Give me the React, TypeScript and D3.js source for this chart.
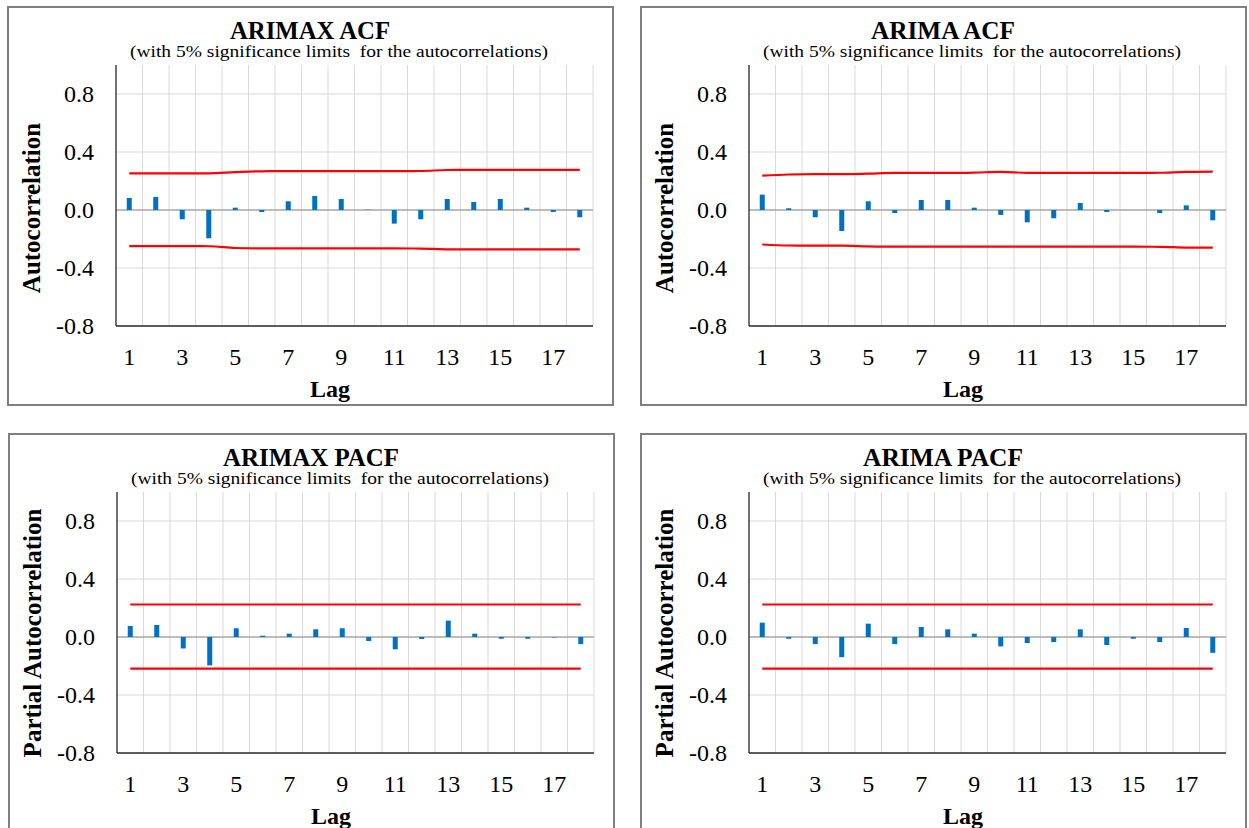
import React from 'react';
import * as d3 from 'd3';

// lags shown on every chart
const lags = [1, 2, 3, 4, 5, 6, 7, 8, 9, 10, 11, 12, 13, 14, 15, 16, 17, 18];
const yTicks = [-0.8, -0.4, 0.0, 0.4, 0.8];
const xTickLabels = [1, 3, 5, 7, 9, 11, 13, 15, 17];

// values
const arimaxAcf = [0.083, 0.09, -0.064, -0.195, 0.016, -0.014, 0.06, 0.097, 0.076, 0.002, -0.094, -0.064, 0.076, 0.055, 0.076, 0.016, -0.014, -0.05];
const arimaAcf = [0.106, 0.012, -0.05, -0.145, 0.06, -0.021, 0.069, 0.069, 0.016, -0.034, -0.085, -0.057, 0.048, -0.014, 0.0, -0.021, 0.032, -0.071];
const arimaxPacf = [0.076, 0.083, -0.079, -0.196, 0.06, 0.009, 0.023, 0.053, 0.06, -0.028, -0.085, -0.014, 0.113, 0.023, -0.012, -0.012, -0.003, -0.049];
const arimaPacf = [0.099, -0.012, -0.049, -0.139, 0.092, -0.049, 0.069, 0.053, 0.023, -0.065, -0.042, -0.035, 0.053, -0.055, -0.012, -0.035, 0.062, -0.109];

// 5% significance limits, upper and lower
const arimaxAcfUpper = [0.252, 0.252, 0.252, 0.253, 0.261, 0.267, 0.268, 0.268, 0.268, 0.268, 0.268, 0.269, 0.276, 0.277, 0.277, 0.277, 0.277, 0.277];
const arimaxAcfLower = [-0.249, -0.249, -0.249, -0.25, -0.262, -0.265, -0.265, -0.265, -0.265, -0.265, -0.265, -0.266, -0.271, -0.272, -0.272, -0.272, -0.272, -0.272];
const arimaAcfUpper = [0.237, 0.245, 0.247, 0.247, 0.251, 0.256, 0.256, 0.256, 0.258, 0.263, 0.256, 0.256, 0.256, 0.256, 0.256, 0.257, 0.263, 0.264];
const arimaAcfLower = [-0.238, -0.245, -0.246, -0.246, -0.251, -0.253, -0.253, -0.253, -0.253, -0.253, -0.253, -0.253, -0.253, -0.253, -0.253, -0.254, -0.259, -0.26];
const arimaxPacfUpper = [0.224, 0.224, 0.224, 0.224, 0.224, 0.224, 0.224, 0.224, 0.224, 0.224, 0.224, 0.224, 0.224, 0.224, 0.224, 0.224, 0.224, 0.224];
const arimaxPacfLower = [-0.218, -0.218, -0.218, -0.218, -0.218, -0.218, -0.218, -0.218, -0.218, -0.218, -0.218, -0.218, -0.218, -0.218, -0.218, -0.218, -0.218, -0.218];
const arimaPacfUpper = [0.224, 0.224, 0.224, 0.224, 0.224, 0.224, 0.224, 0.224, 0.224, 0.224, 0.224, 0.224, 0.224, 0.224, 0.224, 0.224, 0.224, 0.224];
const arimaPacfLower = [-0.218, -0.218, -0.218, -0.218, -0.218, -0.218, -0.218, -0.218, -0.218, -0.218, -0.218, -0.218, -0.218, -0.218, -0.218, -0.218, -0.218, -0.218];

const subtitle = '(with 5% significance limits  for the autocorrelations)';
const font = '"Liberation Serif", "Times New Roman", serif';

const boxW = 605;
const plot = { left: 108, right: 585, top: 58, bottom: 319 };

function Panel({ x0, y0, title, yTitle, values, upper, lower, boxHeight }) {
  const x = d3.scaleBand().domain(lags).range([plot.left, plot.right]).padding(0);
  const y = d3.scaleLinear().domain([-0.8, 1.0]).range([plot.bottom, plot.top]);
  const cx = d => x(d) + x.bandwidth() / 2;

  const limitLine = d3.line().x((d, i) => cx(lags[i])).y(d => y(d)).curve(d3.curveMonotoneX);

  const barW = 5;

  return (
    <g transform={`translate(${x0},${y0})`} fontFamily={font}>
      <rect x={0} y={0} width={boxW} height={boxHeight} fill="#fff" stroke="#7f7f7f" strokeWidth={2} />

      <text x={302} y={32} textAnchor="middle" fontSize={25} fontWeight="bold" textLength={title.length * 16} lengthAdjust="spacingAndGlyphs">{title}</text>
      <text x={331} y={50} textAnchor="middle" fontSize={17} textLength={418} lengthAdjust="spacingAndGlyphs" style={{ whiteSpace: 'pre' }}>{subtitle}</text>

      {/* vertical gridlines between categories */}
      {lags.map(l => (
        <line key={'v' + l} x1={x(l) + x.bandwidth()} x2={x(l) + x.bandwidth()} y1={plot.top} y2={plot.bottom} stroke="#d9d9d9" strokeWidth={1} />
      ))}
      {yTicks.filter(t => t !== 0 && t !== -0.8).map(t => (
        <line key={'h' + t} x1={plot.left} x2={plot.right} y1={y(t)} y2={y(t)} stroke="#d9d9d9" strokeWidth={1} />
      ))}
      <line x1={plot.left} x2={plot.right} y1={y(0)} y2={y(0)} stroke="#a6a6a6" strokeWidth={1.5} />

      {values.map((v, i) => (
        <rect key={'b' + i} x={cx(lags[i]) - barW / 2} y={y(Math.max(0, v))} width={barW} height={Math.abs(y(v) - y(0))} fill="#0070c0" />
      ))}

      <path d={limitLine(upper)} fill="none" stroke="#ff0000" strokeWidth={2.2} />
      <path d={limitLine(lower)} fill="none" stroke="#ff0000" strokeWidth={2.2} />

      <line x1={plot.left} x2={plot.left} y1={plot.top} y2={plot.bottom} stroke="#262626" strokeWidth={1.3} />
      <line x1={plot.left} x2={plot.right} y1={plot.bottom} y2={plot.bottom} stroke="#262626" strokeWidth={1.3} />

      {yTicks.map(t => (
        <text key={'yt' + t} x={86} y={y(t) + 8} textAnchor="end" fontSize={24}>{t.toFixed(1)}</text>
      ))}
      {xTickLabels.map(l => (
        <text key={'xt' + l} x={cx(l)} y={358} textAnchor="middle" fontSize={24}>{l}</text>
      ))}

      <text x={322} y={390} textAnchor="middle" fontSize={24} fontWeight="bold">Lag</text>
      <text transform={`translate(32,${y0 < 100 ? 201 : 199}) rotate(-90)`} textAnchor="middle" fontSize={25} fontWeight="bold">{yTitle}</text>
    </g>
  );
}

export default function App() {
  return (
    <svg width={1249} height={828} style={{ position: 'absolute', left: 0, top: 0, background: '#fff' }}>
      <rect width={1249} height={828} fill="#fff" />
      <Panel x0={8} y0={7} title="ARIMAX ACF" yTitle="Autocorrelation" values={arimaxAcf} upper={arimaxAcfUpper} lower={arimaxAcfLower} boxHeight={398} />
      <Panel x0={641} y0={7} title="ARIMA ACF" yTitle="Autocorrelation" values={arimaAcf} upper={arimaAcfUpper} lower={arimaAcfLower} boxHeight={398} />
      <Panel x0={9} y0={434} title="ARIMAX PACF" yTitle="Partial Autocorrelation" values={arimaxPacf} upper={arimaxPacfUpper} lower={arimaxPacfLower} boxHeight={420} />
      <Panel x0={641} y0={434} title="ARIMA PACF" yTitle="Partial Autocorrelation" values={arimaPacf} upper={arimaPacfUpper} lower={arimaPacfLower} boxHeight={420} />
    </svg>
  );
}
